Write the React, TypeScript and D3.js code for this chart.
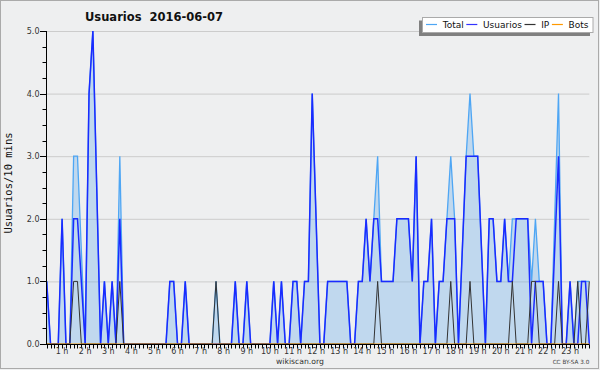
import React from 'react';
import * as d3 from 'd3';

// 10-minute buckets, first one at 00:20
const startMinute = 20;
const stepMinutes = 10;

const usuarios = [
  1, 0, 0, 0, 2, 0, 0, 2, 2, 1,
  0, 4, 5, 2.5, 0, 1, 0, 1, 0, 2,
  0, 0, 0, 0, 0, 0, 0, 0, 0, 0,
  0, 0, 1, 1, 0, 0, 1, 0, 0, 0,
  0, 0, 0, 0, 0, 0, 0, 0, 0, 1,
  0, 0, 1, 0, 0, 0, 0, 0, 0, 1,
  0, 1, 0, 0, 1, 1, 0, 1, 1, 4,
  2, 0, 0, 1, 1, 1, 1, 1, 1, 0,
  0, 1, 1, 2, 1, 2, 2, 1, 1, 1,
  1, 2, 2, 2, 2, 1, 3, 0, 1, 1,
  2, 0, 1, 1, 2, 2, 2, 0, 1.5, 3,
  3, 3, 3, 1.5, 0, 2, 2, 1, 1, 2,
  1, 1, 2, 2, 2, 2, 0, 1, 1, 1,
  0, 0, 1.5, 3, 0, 0, 1, 0, 0, 1,
  1, 0,
];

const total = [
  1, 0, 0, 0, 2, 0, 0, 3, 3, 1.5,
  0, 4, 5, 2.5, 0, 1, 0, 1, 0, 3,
  0, 0, 0, 0, 0, 0, 0, 0, 0, 0,
  0, 0, 1, 1, 0, 0, 1, 0, 0, 0,
  0, 0, 0, 0, 1, 0, 0, 0, 0, 1,
  0, 0, 1, 0, 0, 0, 0, 0, 0, 1,
  0, 1, 0, 0, 1, 1, 0, 1, 1, 4,
  2, 0, 0, 1, 1, 1, 1, 1, 1, 0,
  0, 1, 1, 2, 1, 2, 3, 1, 1, 1,
  1, 2, 2, 2, 2, 1, 3, 0, 1, 1,
  2, 0, 1, 1, 2, 3, 2, 0, 1.5, 3,
  4, 3, 3, 1.5, 0, 2, 2, 1, 1, 2,
  1, 2, 2, 2, 2, 2, 1, 2, 1, 1,
  0, 0, 2, 4, 0, 0, 1, 0, 1, 1,
  1, 1,
];

const ip = [
  0, 0, 0, 0, 0, 0, 0, 1, 1, 0,
  0, 0, 0, 0, 0, 0, 0, 0, 0, 1,
  0, 0, 0, 0, 0, 0, 0, 0, 0, 0,
  0, 0, 0, 0, 0, 0, 0, 0, 0, 0,
  0, 0, 0, 0, 1, 0, 0, 0, 0, 0,
  0, 0, 0, 0, 0, 0, 0, 0, 0, 0,
  0, 0, 0, 0, 0, 0, 0, 0, 0, 0,
  0, 0, 0, 0, 0, 0, 0, 0, 0, 0,
  0, 0, 0, 0, 0, 0, 1, 0, 0, 0,
  0, 0, 0, 0, 0, 0, 0, 0, 0, 0,
  0, 0, 0, 0, 0, 1, 0, 0, 0, 0,
  1, 0, 0, 0, 0, 0, 0, 0, 0, 0,
  0, 1, 0, 0, 0, 0, 1, 1, 0, 0,
  0, 0, 0, 1, 0, 0, 0, 0, 1, 0,
  0, 1,
];

const bots = [
  0, 0, 0, 0, 0, 0, 0, 0, 0, 0,
  0, 0, 0, 0, 0, 0, 0, 0, 0, 0,
  0, 0, 0, 0, 0, 0, 0, 0, 0, 0,
  0, 0, 0, 0, 0, 0, 0, 0, 0, 0,
  0, 0, 0, 0, 0, 0, 0, 0, 0, 0,
  0, 0, 0, 0, 0, 0, 0, 0, 0, 0,
  0, 0, 0, 0, 0, 0, 0, 0, 0, 0,
  0, 0, 0, 0, 0, 0, 0, 0, 0, 0,
  0, 0, 0, 0, 0, 0, 0, 0, 0, 0,
  0, 0, 0, 0, 0, 0, 0, 0, 0, 0,
  0, 0, 0, 0, 0, 0, 0, 0, 0, 0,
  0, 0, 0, 0, 0, 0, 0, 0, 0, 0,
  0, 0, 0, 0, 0, 0, 0, 0, 0, 0,
  0, 0, 0, 0, 0, 0, 0, 0, 0, 0,
  0, 0,
];

const hourLabels = [
  '1 h', '2 h', '3 h', '4 h', '5 h', '6 h', '7 h', '8 h', '9 h', '10 h', '11 h', '12 h',
  '13 h', '14 h', '15 h', '16 h', '17 h', '18 h', '19 h', '20 h', '21 h', '22 h', '23 h',
];
const yTicks = [0, 1, 2, 3, 4, 5];

const legendItems = [
  { name: 'Total', color: '#4ea6f4' },
  { name: 'Usuarios', color: '#3333ff' },
  { name: 'IP', color: '#333333' },
  { name: 'Bots', color: '#ff9900' },
];

const W = 600;
const H = 370;
const BG = '#eeeff0';
const font = 'DejaVu Sans, sans-serif';

function textWidth(s: string, css: string) {
  const ctx = document.createElement('canvas').getContext('2d');
  if (!ctx) return s.length * 5;
  ctx.font = css;
  return ctx.measureText(s).width;
}

export default function App() {
  const minutes = usuarios.map((_, i) => startMinute + i * stepMinutes);

  const x = d3.scaleLinear()
    .domain([minutes[0], minutes[minutes.length - 1]])
    .range([46.7, 589.3]);
  const y = d3.scaleLinear().domain([0, 5]).range([344, 31]);

  const line = d3.line<number>()
    .x((_, i) => x(minutes[i]))
    .y(d => y(d));
  const area = d3.area<number>()
    .x((_, i) => x(minutes[i]))
    .y0(y(0))
    .y1(d => y(d));

  const minorY = d3.range(0, 5.001, 0.25);
  const legendX = 422.5;
  const legendY = 17.5;
  // legend entries: 11px sample line, label 17px after it, ~3px gap to next entry
  let cursor = legendX + 3.5;
  const legendPos = legendItems.map(it => {
    const lineX = cursor;
    const textX = cursor + 16.7;
    cursor = textX + textWidth(it.name, '9px "DejaVu Sans"') + 2.6;
    return { ...it, lineX, textX };
  });

  return (
    <svg width={W} height={H} style={{ position: 'absolute', left: 0, top: 0, display: 'block' }}>
      <rect x={0} y={0} width={W} height={H} fill={BG} />
      <rect x={0.5} y={0.5} width={598} height={368} fill="none" stroke="#aaaaaa" />

      {/* title */}
      <text x={85} y={20.5} fontFamily={font} fontWeight="bold" fontSize={11.5} fill="#111"
        style={{ whiteSpace: 'pre' }}>
        {'Usuarios  2016-06-07'}
      </text>

      {/* grid */}
      {yTicks.filter(t => t > 0).map(t => (
        <line key={'g' + t} x1={46} x2={589.3} y1={y(t) + 0.5} y2={y(t) + 0.5} stroke="#cccccc" />
      ))}

      {/* series */}
      <path d={area(total) || ''} fill="#5fa8e8" fillOpacity={0.32} />
      <path d={line(total) || ''} fill="none" stroke="#4ea6f4" strokeWidth={1.3} />
      <path d={line(usuarios) || ''} fill="none" stroke="#1a2bff" strokeWidth={1.5} />
      <path d={line(ip) || ''} fill="none" stroke="#333333" strokeWidth={1} />
      <path d={line(bots) || ''} fill="none" stroke="#ff9900" strokeWidth={1} />

      {/* y axis */}
      <line x1={46.5} x2={46.5} y1={31} y2={344.5} stroke="#000" />
      {minorY.map(v => (
        <line key={'my' + v} x1={Number.isInteger(v) ? 40 : 42.5} x2={46.5}
          y1={Math.round(y(v)) + 0.5} y2={Math.round(y(v)) + 0.5} stroke="#000" />
      ))}
      {yTicks.map(t => (
        <text key={'yl' + t} x={39.5} y={y(t) + 3} textAnchor="end" fontFamily={font}
          fontSize={8} fill="#333">{t.toFixed(1)}</text>
      ))}
      <text transform="translate(12,183) rotate(-90)" textAnchor="middle"
        fontFamily="DejaVu Sans Mono, monospace" fontSize={10.5} fill="#111">Usuarios/10 mins</text>

      {/* x axis */}
      <line x1={46} x2={589.5} y1={344.5} y2={344.5} stroke="#000" />
      {minutes.map(m => (
        <line key={'xt' + m} x1={Math.round(x(m)) + 0.5} x2={Math.round(x(m)) + 0.5}
          y1={344.5} y2={348.5} stroke="#000" />
      ))}
      {hourLabels.map((lab, k) => (
        <text key={lab} x={x((k + 1) * 60)} y={353.5} textAnchor="middle" fontFamily={font}
          fontSize={8} fill="#333">{lab}</text>
      ))}

      {/* footer */}
      <text x={300} y={363.5} textAnchor="middle" fontFamily={font} fontSize={7.7} fill="#333">wikiscan.org</text>
      <text x={589.3} y={364.3} textAnchor="end" fontFamily={font} fontSize={5.7} fill="#444">CC BY-SA 3.0</text>

      {/* legend */}
      <rect x={419} y={20.5} width={171} height={15.5} fill="#808080" />
      <rect x={legendX} y={legendY} width={170.5} height={15} fill="#ffffff" stroke="#aaaaaa" />
      {legendPos.map(it => (
        <g key={it.name}>
          <line x1={it.lineX} x2={it.lineX + 11} y1={24.5} y2={24.5} stroke={it.color} strokeWidth={1.2} />
          <text x={it.textX} y={27.5} fontFamily={font} fontSize={9} fill="#111">{it.name}</text>
        </g>
      ))}
    </svg>
  );
}
